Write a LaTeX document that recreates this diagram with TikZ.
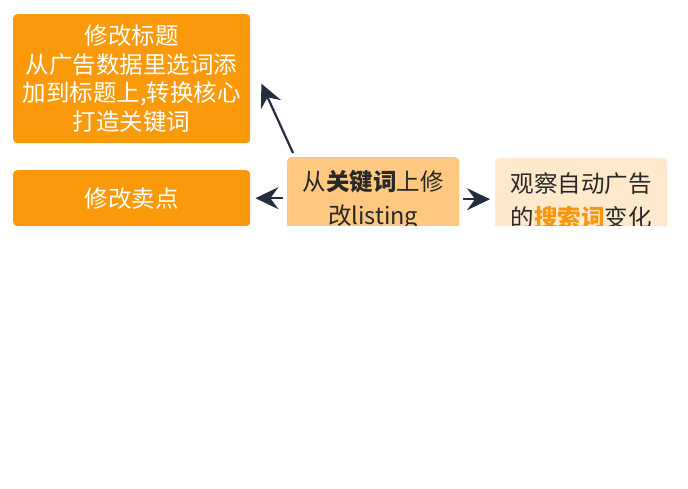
\documentclass[tikz,border=0pt]{standalone}
\usepackage{fontspec}
\setmainfont{Noto Sans CJK SC}
\usetikzlibrary{arrows.meta}
\definecolor{orangeA}{RGB}{250,154,10}
\definecolor{orangeC}{RGB}{255,200,128}
\definecolor{orangeD}{RGB}{255,232,204}
\definecolor{darkarrow}{RGB}{35,45,62}
\definecolor{darktext}{RGB}{40,40,40}
\definecolor{hl}{RGB}{250,150,10}
\tikzset{
  box/.style={rounded corners=4pt, inner sep=0pt, align=center, anchor=north west},
  obox/.style={box, fill=orangeA, text=white, font=\fontsize{23.5pt}{28.5pt}\selectfont},
  cbox/.style={box, fill=orangeC, text=darktext, font=\fontsize{23.5pt}{34pt}\selectfont},
  dbox/.style={box, fill=orangeD, text=darktext, font=\fontsize{23.5pt}{34pt}\selectfont},
  conn/.style={draw=darkarrow, line width=2.2pt, -{Stealth[length=23pt,width=22pt,inset=8pt]}}
}
\begin{document}
\begin{tikzpicture}[x=1pt,y=-1pt]
\useasboundingbox (0,0) rectangle (688,489);
\clip (0,0) rectangle (688,226);
\node[obox, minimum width=237pt, minimum height=129pt] (A) at (13,14)
  {修改标题\\从广告数据里选词添\\加到标题上,转换核心\\打造关键词};
\node[obox, minimum width=237pt, minimum height=56pt] (B) at (13,170) {修改卖点};
\node[cbox, minimum width=172pt, minimum height=86pt] (C) at (287,157)
  {从\textbf{关键词}上修\\改listing};
\node[dbox, minimum width=172pt, minimum height=86pt] (D) at (495,158)
  {观察自动广告\\的\textcolor{hl}{\textbf{搜索词}}变化};
\coordinate (Cnw) at ([xshift=6pt,yshift=4pt]C.north west);
\coordinate (Atip) at ([xshift=11pt,yshift=-5pt]A.east);
\coordinate (Cw) at ([xshift=-4pt,yshift=2pt]C.west);
\coordinate (Btip) at ([xshift=5pt]B.east |- Cw);
\coordinate (Ce) at ([xshift=4pt,yshift=1pt]C.east);
\coordinate (Dtip) at ([xshift=-5pt]D.west |- Ce);
\draw[conn] (Cnw) -- (Atip);
\draw[conn] (Cw) -- (Btip);
\draw[conn] (Ce) -- (Dtip);
\end{tikzpicture}
\end{document}
